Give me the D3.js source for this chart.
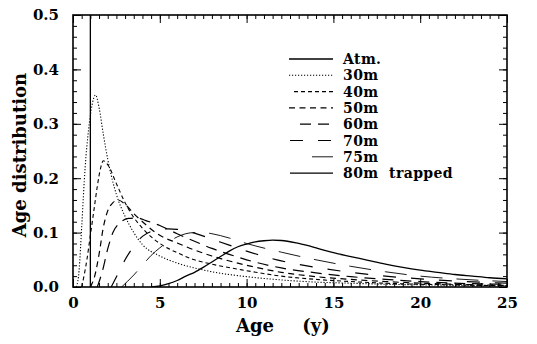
<!DOCTYPE html>
<html><head><meta charset="utf-8">
<script src="https://cdn.jsdelivr.net/npm/d3@7/dist/d3.min.js"></script>
<style>body{margin:0;background:#fff}svg{display:block}text{font-family:"DejaVu Serif",serif;fill:#000}</style>
</head><body>
<svg id="c" width="537" height="344"></svg>
<script>
const xTicks = [0,5,10,15,20,25];
const yTicks = [0.0,0.1,0.2,0.3,0.4,0.5];
const seriesNames = ["Atm.","30m","40m","50m","60m","70m","75m","80m  trapped"];

const agesAtm = [1.0,1.0];
const valsAtm = [0.0,0.5];
const ages30 = [0.2,0.35,0.5,0.7,0.9,1.1,1.3,1.5,1.75,2,2.5,3,3.5,4,5,6,7,8,10,12,14,16,18,20,22,25];
const vals30 = [0,0.03,0.11,0.22,0.29,0.335,0.353,0.33,0.28,0.235,0.17,0.13,0.1,0.078,0.057,0.044,0.035,0.028,0.019,0.013,0.009,0.007,0.005,0.004,0.003,0.002];
const ages40 = [0.5,0.8,1.0,1.2,1.4,1.6,1.75,2,2.5,3,3.5,4,5,6,7,8,10,12,14,16,18,20,22,25];
const vals40 = [0,0.05,0.095,0.14,0.185,0.22,0.232,0.225,0.19,0.155,0.128,0.108,0.08,0.063,0.05,0.042,0.03,0.02,0.014,0.01,0.007,0.005,0.004,0.002];
const ages50 = [1.0,1.25,1.5,1.75,2.0,2.3,2.6,3.0,3.5,4,5,6,7,8,10,12,14,16,18,20,22,25];
const vals50 = [0,0.02,0.06,0.11,0.14,0.155,0.16,0.152,0.135,0.12,0.095,0.081,0.068,0.057,0.04,0.027,0.019,0.014,0.01,0.007,0.005,0.003];
const ages60 = [1.4,1.7,2.0,2.3,2.7,3.2,3.7,4.2,5,6,7,8,9,10,12,14,16,18,20,22,25];
const vals60 = [0,0.03,0.07,0.1,0.118,0.126,0.127,0.122,0.113,0.098,0.084,0.071,0.06,0.05,0.035,0.026,0.019,0.014,0.01,0.007,0.005];
const ages70 = [2.2,2.6,3.0,3.5,4.0,4.5,5.0,5.5,6,7,8,9,10,12,14,16,18,20,22,25];
const vals70 = [0,0.025,0.05,0.075,0.093,0.102,0.106,0.107,0.106,0.099,0.088,0.077,0.066,0.048,0.036,0.027,0.02,0.015,0.011,0.007];
const ages75 = [2.8,3.5,4,4.5,5,5.5,6,6.5,7,7.5,8,9,10,12,14,16,18,20,22,25];
const vals75 = [0,0.022,0.04,0.058,0.072,0.083,0.092,0.098,0.1,0.1,0.098,0.09,0.08,0.064,0.05,0.038,0.028,0.02,0.015,0.01];
const ages80 = [4.5,5,5.5,6,6.5,7,7.5,8,8.5,9,9.5,10,10.5,11,11.5,12,13,14,15,16,17,18,19,20,21,22,23,24,25];
const vals80 = [0,0.002,0.006,0.012,0.02,0.027,0.036,0.046,0.056,0.066,0.074,0.079,0.083,0.085,0.086,0.0855,0.08,0.072,0.063,0.056,0.049,0.042,0.036,0.031,0.027,0.023,0.02,0.017,0.015];

const allAges = [agesAtm,ages30,ages40,ages50,ages60,ages70,ages75,ages80];
const allVals = [valsAtm,vals30,vals40,vals50,vals60,vals70,vals75,vals80];
const dashes = [null,"1.2,1.8","4,3","6,4.5","11,7","13,15","22,14",null];
const widths = [1.3,1.1,1.1,1.2,1.2,1.2,0.9,1.3];

const svg = d3.select("#c");
const L=73,R=507,T=15,B=287;
const x = d3.scaleLinear().domain([0,25]).range([L,R]);
const y = d3.scaleLinear().domain([0,0.5]).range([B,T]);

svg.append("defs").append("clipPath").attr("id","clip").append("rect")
  .attr("x",L).attr("y",T).attr("width",R-L).attr("height",B-T);

const line = d3.line().x(d=>x(d[0])).y(d=>y(d[1])).curve(d3.curveMonotoneX);
const g = svg.append("g").attr("clip-path","url(#clip)");
allAges.forEach((ages,i)=>{
  const pts = ages.map((a,j)=>[a,allVals[i][j]]);
  const ln = i===0 ? d3.line().x(d=>x(d[0])).y(d=>y(d[1])) : line;
  g.append("path").attr("d",ln(pts)).attr("fill","none").attr("stroke","#000")
   .attr("stroke-width",widths[i]).attr("stroke-dasharray",dashes[i]);
});

// axes with inward ticks
const minorX = d3.range(0,25.01,0.5), minorY = d3.range(0,0.501,0.02);
const ax = (sel,axis)=>{sel.call(axis); sel.select(".domain").remove(); sel.selectAll("line").attr("stroke","#000");};
svg.append("g").attr("transform",`translate(0,${B})`).call(s=>ax(s,d3.axisBottom(x).tickValues(minorX).tickSize(-4).tickFormat("")));
svg.append("g").attr("transform",`translate(0,${B})`).call(s=>ax(s,d3.axisBottom(x).tickValues(xTicks).tickSize(-8).tickPadding(10).tickFormat(d3.format("d"))));
svg.append("g").attr("transform",`translate(0,${T})`).call(s=>ax(s,d3.axisTop(x).tickValues(minorX).tickSize(-4).tickFormat("")));
svg.append("g").attr("transform",`translate(0,${T})`).call(s=>ax(s,d3.axisTop(x).tickValues(xTicks).tickSize(-8).tickFormat("")));
svg.append("g").attr("transform",`translate(${L},0)`).call(s=>ax(s,d3.axisLeft(y).tickValues(minorY).tickSize(-4).tickFormat("")));
svg.append("g").attr("transform",`translate(${L},0)`).call(s=>ax(s,d3.axisLeft(y).tickValues(yTicks).tickSize(-8).tickPadding(14).tickFormat(d3.format(".1f"))));
svg.append("g").attr("transform",`translate(${R},0)`).call(s=>ax(s,d3.axisRight(y).tickValues(minorY).tickSize(-4).tickFormat("")));
svg.append("g").attr("transform",`translate(${R},0)`).call(s=>ax(s,d3.axisRight(y).tickValues(yTicks).tickSize(-8).tickFormat("")));
svg.selectAll(".tick text").attr("font-family","DejaVu Serif").attr("font-size",15).attr("font-weight","bold").attr("fill","#000");

svg.append("rect").attr("x",L).attr("y",T).attr("width",R-L).attr("height",B-T)
  .attr("fill","none").attr("stroke","#000").attr("stroke-width",1.6);

// axis titles
svg.append("text").attr("x",255).attr("y",332).attr("text-anchor","middle")
  .attr("font-size",18).attr("font-weight","bold").text("Age");
svg.append("text").attr("x",316).attr("y",332).attr("text-anchor","middle")
  .attr("font-size",18).attr("font-weight","bold").text("(y)");
svg.append("text").attr("transform","translate(26,155) rotate(-90)").attr("text-anchor","middle")
  .attr("font-size",18).attr("font-weight","bold").text("Age distribution");

// legend
const legX0=[289,289,294,289,300,290,312,290];
seriesNames.forEach((n,i)=>{
  const yy = 59 + i*16.3;
  svg.append("line").attr("x1",legX0[i]).attr("x2",333).attr("y1",yy).attr("y2",yy)
    .attr("stroke","#000").attr("stroke-width",widths[i]).attr("stroke-dasharray",dashes[i]);
  svg.append("text").attr("x",343).attr("y",yy+5).attr("font-size",14).attr("font-weight","bold")
    .attr("letter-spacing",0.4).style("white-space","pre").text(n);
});
</script>
</body></html>
